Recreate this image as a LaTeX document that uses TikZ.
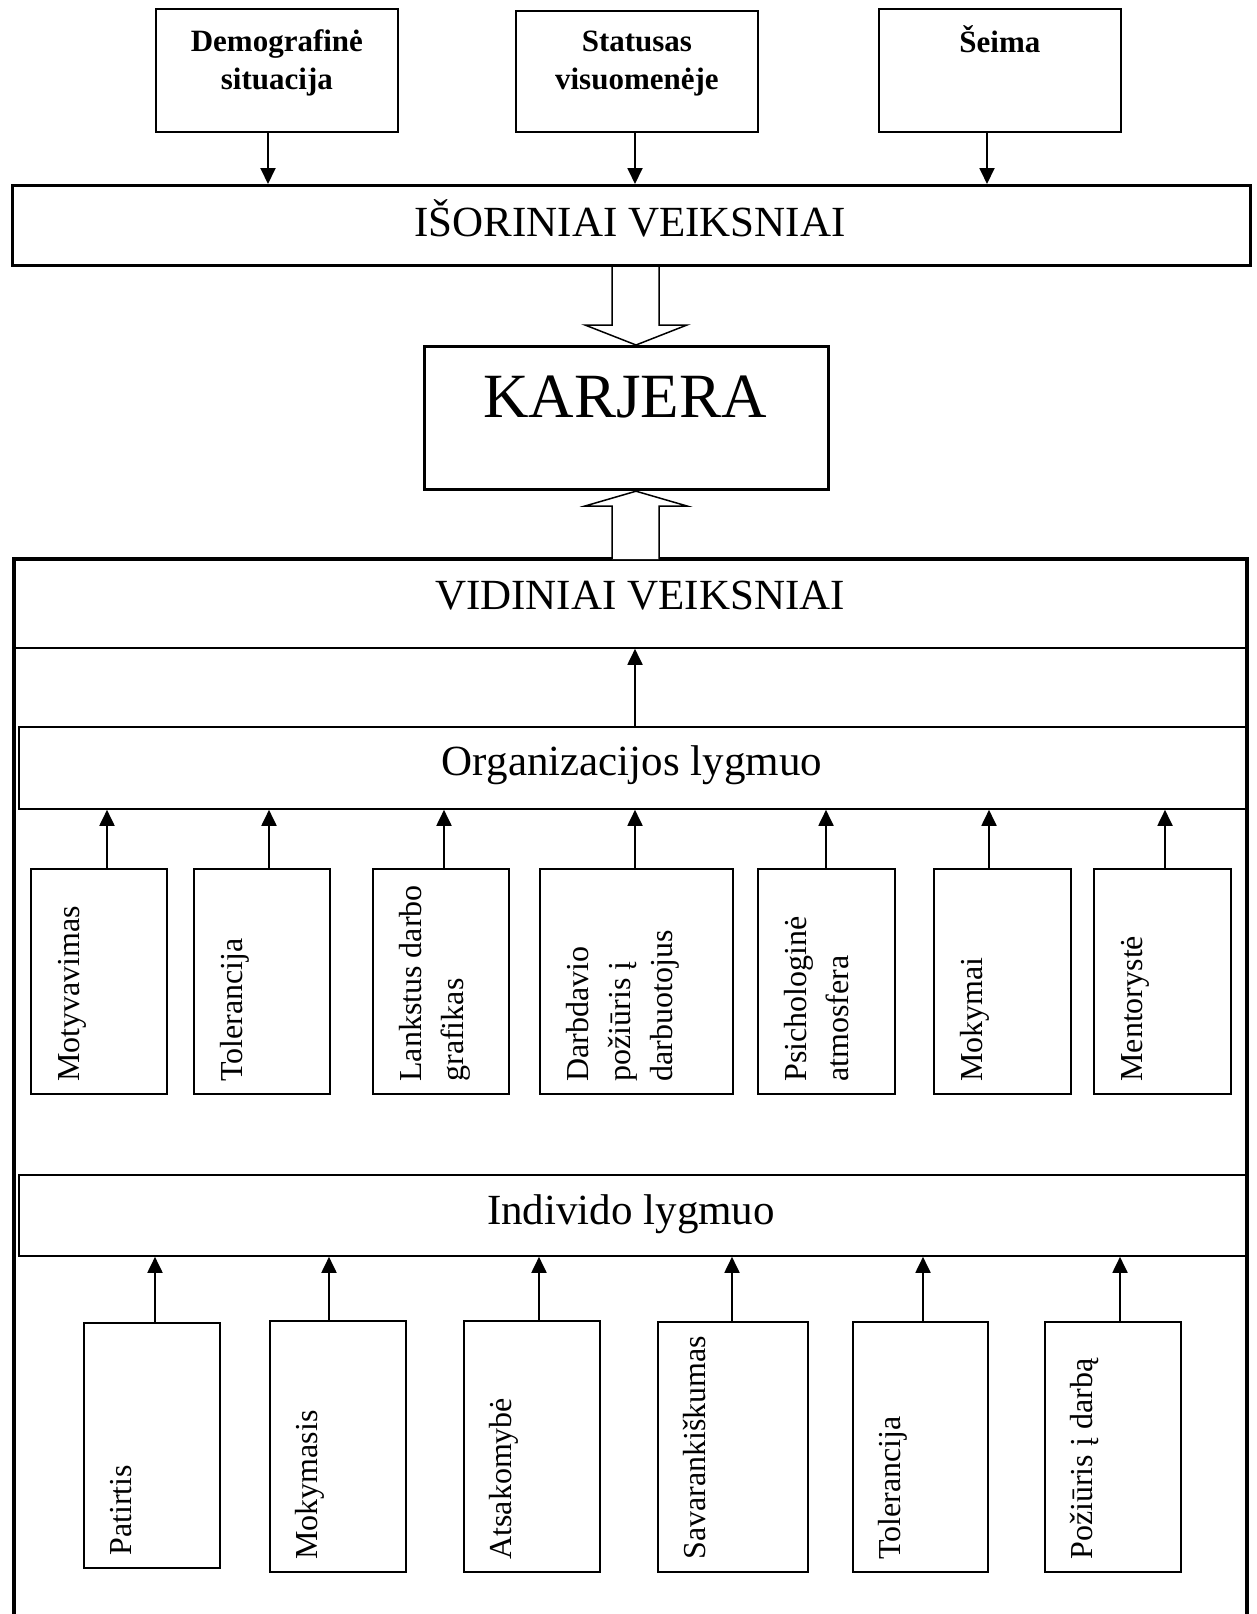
\documentclass[tikz,border=0pt]{standalone}
\usepackage{fontspec}
\setmainfont{Liberation Serif}
\usetikzlibrary{calc,arrows.meta,positioning}

\tikzset{
  langas/.style={draw, line width=1.8pt, inner sep=0pt, anchor=north west},
  storus/.style={draw, line width=3.2pt, inner sep=0pt, anchor=north west},
  rodykle/.style={line width=1.9pt, -{Triangle[length=16pt,width=15pt]}},
  tuscia/.style={draw, line width=1.5pt, fill=white, line join=miter},
  stati/.style={rotate=90, anchor=north west, inner sep=0pt, align=left, font=\fontsize{32}{42}\selectfont},
  didelis/.style={anchor=base, inner sep=0pt, font=\fontsize{43}{50}\selectfont},
  virsus/.style={anchor=north, inner sep=0pt, align=center, font=\bfseries\fontsize{31}{38}\selectfont},
}

\begin{document}
\begin{tikzpicture}[x=1pt,y=1pt,yscale=-1]
\useasboundingbox (0,0) rectangle (1256,1614);

% Virsutiniai langeliai
\node[langas, minimum width=242, minimum height=123] (demo) at (155,8) {};
\node[langas, minimum width=242, minimum height=121] (stat) at (515,10) {};
\node[langas, minimum width=242, minimum height=123] (seima) at (878,8) {};
\node[virsus] (demo-t) at ($(demo.north)+(0,17)$) {\strut Demografinė\\situacija};
\node[virsus] (stat-t) at ($(stat.north)+(0,15)$) {\strut Statusas\\visuomenėje};
\node[virsus] (seima-t) at ($(seima.north)+(0,17)$) {\strut Šeima};

% Isoriniai veiksniai
\node[storus, minimum width=1238, minimum height=80] (isor) at (11,184) {};
\node[didelis] (isor-t) at (630,236) {IŠORINIAI VEIKSNIAI};
\draw[rodykle] (demo.south -| 268,0) -- (isor.north -| 268,0);
\draw[rodykle] (stat.south -| 635,0) -- (isor.north -| 635,0);
\draw[rodykle] (seima.south -| 987,0) -- (isor.north -| 987,0);

% Karjera
\node[storus, minimum width=404, minimum height=143] (karj) at (423,345) {};
\node[anchor=base, inner sep=0pt, font=\fontsize{63}{70}\selectfont] (karj-t) at (625,417) {KARJERA};

% Vidiniai veiksniai
\node[langas, minimum width=1233, minimum height=88] (vid) at (14,559) {};
\node[didelis] (vid-t) at (640,609) {VIDINIAI VEIKSNIAI};
\draw[line width=3.2pt] (14,1620) -- (14,559) -- (1247,559) -- (1247,1620);

% Tuscios rodykles
\filldraw[tuscia] (isor.south -| 612,0) -- (612,325) -- (585,325) -- (karj.north -| 636,0) -- (687,325) -- (659,325) -- (isor.south -| 659,0);
\filldraw[tuscia] (vid.north -| 612,0) -- (612,506) -- (585,506) -- (karj.south -| 636,0) -- (687,506) -- (659,506) -- (vid.north -| 659,0);

% Organizacijos lygmuo
\node[langas, minimum width=1228, minimum height=82] (org) at (18,726) {};
\node[didelis] (org-t) at (632,775) {Organizacijos lygmuo};
\draw[rodykle] (org.north -| 635,0) -- (vid.south -| 635,0);

\node[langas, minimum width=136, minimum height=225] (m1) at (30,868) {};
\node[langas, minimum width=136, minimum height=225] (m2) at (193,868) {};
\node[langas, minimum width=136, minimum height=225] (m3) at (372,868) {};
\node[langas, minimum width=193, minimum height=225] (m4) at (539,868) {};
\node[langas, minimum width=137, minimum height=225] (m5) at (757,868) {};
\node[langas, minimum width=137, minimum height=225] (m6) at (933,868) {};
\node[langas, minimum width=137, minimum height=225] (m7) at (1093,868) {};
\node[stati] (m1-t) at ($(m1.south west)+(20,-13)$) {\strut Motyvavimas};
\node[stati] (m2-t) at ($(m2.south west)+(20,-13)$) {\strut Tolerancija};
\node[stati] (m3-t) at ($(m3.south west)+(20,-13)$) {\strut Lankstus darbo\\grafikas};
\node[stati] (m4-t) at ($(m4.south west)+(20,-13)$) {\strut Darbdavio\\požiūris į\\darbuotojus};
\node[stati] (m5-t) at ($(m5.south west)+(20,-13)$) {\strut Psichologinė\\atmosfera};
\node[stati] (m6-t) at ($(m6.south west)+(20,-13)$) {\strut Mokymai};
\node[stati] (m7-t) at ($(m7.south west)+(20,-13)$) {\strut Mentorystė};
\draw[rodykle] (m1.north -| 107,0) -- (org.south -| 107,0);
\draw[rodykle] (m2.north -| 269,0) -- (org.south -| 269,0);
\draw[rodykle] (m3.north -| 444,0) -- (org.south -| 444,0);
\draw[rodykle] (m4.north -| 635,0) -- (org.south -| 635,0);
\draw[rodykle] (m5.north -| 826,0) -- (org.south -| 826,0);
\draw[rodykle] (m6.north -| 989,0) -- (org.south -| 989,0);
\draw[rodykle] (m7.north -| 1165,0) -- (org.south -| 1165,0);

% Individo lygmuo
\node[langas, minimum width=1228, minimum height=81] (ind) at (18,1174) {};
\node[didelis] (ind-t) at (631,1224) {Individo lygmuo};

\node[langas, minimum width=136, minimum height=245] (b1) at (83,1322) {};
\node[langas, minimum width=136, minimum height=251] (b2) at (269,1320) {};
\node[langas, minimum width=136, minimum height=251] (b3) at (463,1320) {};
\node[langas, minimum width=150, minimum height=250] (b4) at (657,1321) {};
\node[langas, minimum width=135, minimum height=250] (b5) at (852,1321) {};
\node[langas, minimum width=136, minimum height=250] (b6) at (1044,1321) {};
\node[stati] (b1-t) at ($(b1.south west)+(19,-13)$) {\strut Patirtis};
\node[stati] (b2-t) at ($(b2.south west)+(19,-13)$) {\strut Mokymasis};
\node[stati] (b3-t) at ($(b3.south west)+(19,-13)$) {\strut Atsakomybė};
\node[stati] (b4-t) at ($(b4.south west)+(19,-13)$) {\strut Savarankiškumas};
\node[stati] (b5-t) at ($(b5.south west)+(19,-13)$) {\strut Tolerancija};
\node[stati] (b6-t) at ($(b6.south west)+(19,-13)$) {\strut Požiūris į darbą};
\draw[rodykle] (b1.north -| 155,0) -- (ind.south -| 155,0);
\draw[rodykle] (b2.north -| 329,0) -- (ind.south -| 329,0);
\draw[rodykle] (b3.north -| 539,0) -- (ind.south -| 539,0);
\draw[rodykle] (b4.north -| 732,0) -- (ind.south -| 732,0);
\draw[rodykle] (b5.north -| 923,0) -- (ind.south -| 923,0);
\draw[rodykle] (b6.north -| 1120,0) -- (ind.south -| 1120,0);

\end{tikzpicture}
\end{document}
